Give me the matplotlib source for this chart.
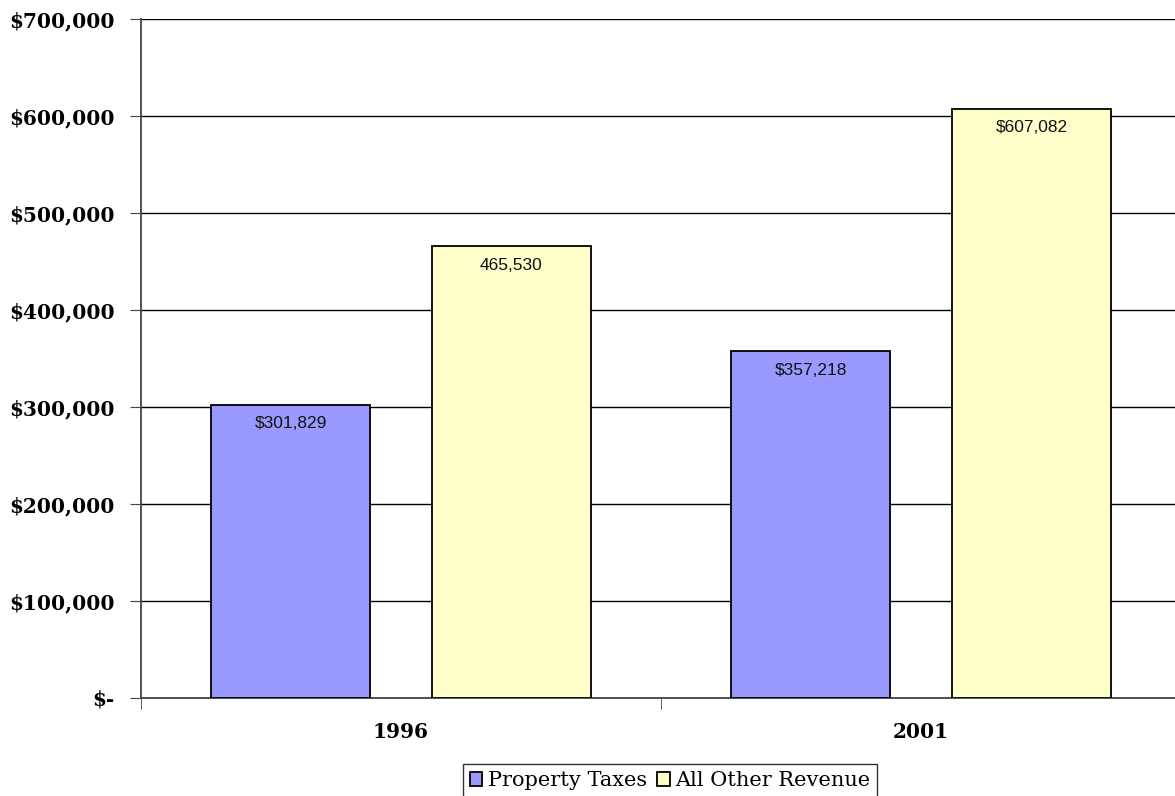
import matplotlib
matplotlib.use("Agg")
import matplotlib.pyplot as plt
import numpy as np

years = ["1996", "2001"]
series_names = ["Property Taxes", "All Other Revenue"]
property_taxes = [301829, 357218]
other_revenue = [465530, 607082]
property_labels = ["$301,829", "$357,218"]
other_labels = ["465,530", "$607,082"]
yticks = [0, 100000, 200000, 300000, 400000, 500000, 600000, 700000]
colors = ["#9999FF", "#FFFFCC"]

fig = plt.figure(figsize=(11.75, 7.96), dpi=100)
ax = fig.add_axes([141/1175, 98/796, 1040/1175, 679/796])

x = np.arange(len(years))
off = 0.2125
w = 0.304
b1 = ax.bar(x - off, property_taxes, w, color=colors[0], edgecolor="black", linewidth=1.3, label=series_names[0], zorder=3)
b2 = ax.bar(x + off, other_revenue, w, color=colors[1], edgecolor="black", linewidth=1.3, label=series_names[1], zorder=3)

for bars, labs in ((b1, property_labels), (b2, other_labels)):
    for r, t in zip(bars, labs):
        ax.annotate(t, (r.get_x() + r.get_width()/2, r.get_height()), xytext=(0, -8),
                    textcoords="offset points", ha="center", va="top",
                    fontsize=12.5, family="Liberation Sans", color="#111111", zorder=4)

ax.set_xlim(-0.5, 1.5)
ax.set_ylim(0, 700000)
ax.set_yticks(yticks)
ax.set_yticklabels(["$-" if v == 0 else "${:,}".format(v) for v in yticks],
                   fontsize=14.5, fontweight="bold", family="DejaVu Serif")
ax.yaxis.grid(True, color="black", linewidth=1.0, zorder=0)
ax.set_axisbelow(True)

ax.set_xticks(x)
ax.set_xticklabels(years, fontsize=14.5, fontweight="bold", family="DejaVu Serif")
ax.tick_params(axis="x", which="major", length=0, pad=17)
ax.set_xticks([-0.5, 0.5, 1.5], minor=True)
ax.tick_params(axis="x", which="minor", length=8, direction="out", color="#444444")
ax.tick_params(axis="y", length=8, direction="out", color="#444444", pad=11)

for s in ["right", "top"]:
    ax.spines[s].set_visible(False)
ax.spines["left"].set_color("#444444")
ax.spines["bottom"].set_color("#444444")
ax.spines["left"].set_linewidth(1.3)
ax.spines["bottom"].set_linewidth(1.3)

leg = fig.legend(loc="upper center", bbox_to_anchor=(670/1175, 1 - 764/796), ncol=2,
                 prop={"family": "DejaVu Serif", "size": 15}, frameon=True, fancybox=False,
                 edgecolor="black", handlelength=0.6, handleheight=0.6, handletextpad=0.25,
                 columnspacing=0.5, borderpad=0.35, borderaxespad=0)
leg.get_frame().set_linewidth(1.0)

fig.savefig("out.png", dpi=100)
